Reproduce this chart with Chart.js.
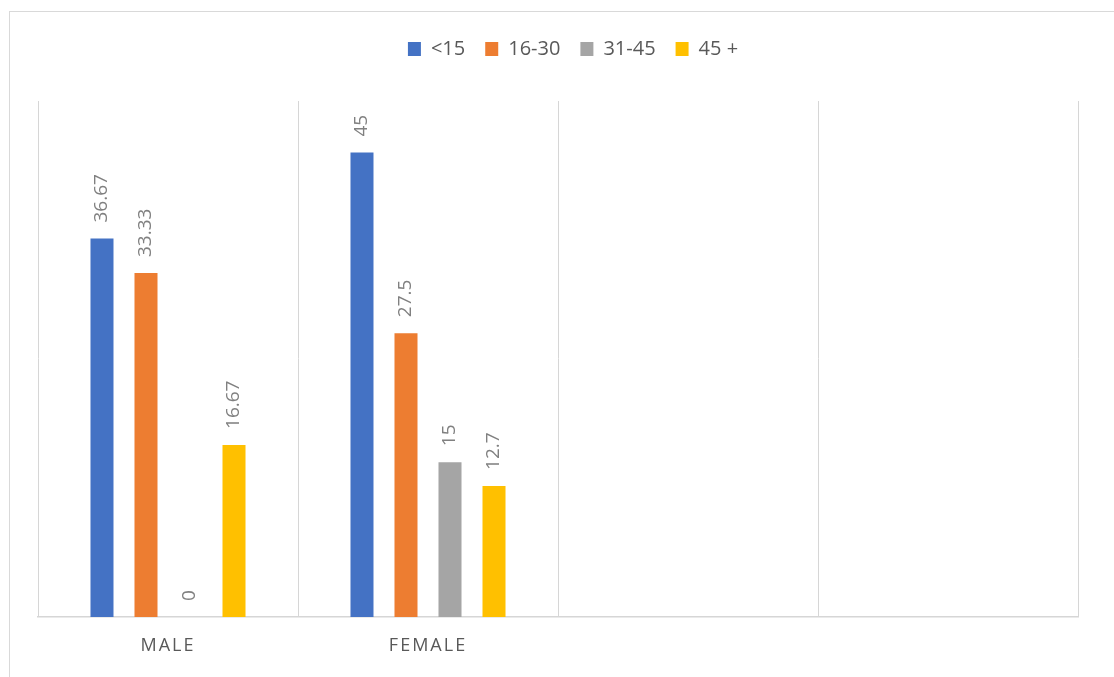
<!DOCTYPE html>
<html>
<head>
<meta charset="utf-8">
<script src="https://cdn.jsdelivr.net/npm/chart.js@4/dist/chart.umd.min.js"></script>
<style>
    html, body { margin: 0; padding: 0; background: #fff; overflow: hidden; }
    #frame {
        position: absolute; left: 9px; top: 11px;
        width: 1200px; height: 800px;
        border: 1px solid #d9d9d9;
    }
    #wrap { position: absolute; left: 0; top: 0; width: 1114px; height: 677px; }
</style>
</head>
<body>
<div id="frame"></div>
<div id="wrap"><canvas id="ageChart"></canvas></div>
<script>
// categories and age-group shares (%)
const genders = ['MALE', 'FEMALE', '', ''];
const under15 = [36.67, 45, null, null];
const age16to30 = [33.33, 27.5, null, null];
const age31to45 = [0, 15, null, null];
const age45plus = [16.67, 12.7, null, null];
const groupNames = ['<15', '16-30', '31-45', '45 +'];

Chart.defaults.font.family = '"Open Sans", sans-serif';
Chart.defaults.animation = false;

// value labels standing vertically above each bar
const barValueLabels = {
    id: 'barValueLabels',
    afterDatasetsDraw(chart) {
        const ctx = chart.ctx;
        ctx.save();
        ctx.font = '19px "Open Sans", sans-serif';
        ctx.fillStyle = '#808080';
        ctx.textAlign = 'left';
        ctx.textBaseline = 'middle';
        chart.data.datasets.forEach(function(ds, i) {
            chart.getDatasetMeta(i).data.forEach(function(bar, j) {
                const v = ds.data[j];
                if (v === null || v === undefined) return;
                ctx.save();
                ctx.translate(bar.x, bar.y - 16);
                ctx.rotate(-Math.PI / 2);
                ctx.fillText(String(v), 0, 0);
                ctx.restore();
            });
        });
        ctx.restore();
    }
};

// spaced-out capitals on the category axis
const spacedTicks = {
    id: 'spacedTicks',
    beforeDraw(chart) {
        const scale = chart.scales.x;
        if (scale._spaced) return;
        const orig = scale.drawLabels.bind(scale);
        scale.drawLabels = function(area) {
            this.ctx.save();
            this.ctx.letterSpacing = '2px';
            orig(area);
            this.ctx.restore();
        };
        scale._spaced = true;
    }
};

var ctx = document.getElementById('ageChart').getContext('2d');
new Chart(ctx, {
    type: 'bar',
    data: {
        labels: genders,
        datasets: [
            { label: groupNames[0], data: under15, backgroundColor: '#4472C4', xAxisID: 'x' },
            { label: groupNames[1], data: age16to30, backgroundColor: '#ED7D31', xAxisID: 'x' },
            { label: groupNames[2], data: age31to45, backgroundColor: '#A5A5A5', xAxisID: 'x' },
            { label: groupNames[3], data: age45plus, backgroundColor: '#FFC000', xAxisID: 'x' }
        ]
    },
    options: {
        responsive: true,
        maintainAspectRatio: false,
        categoryPercentage: 0.677,
        barPercentage: 0.523,
        layout: { padding: { top: 19, left: 38, right: 6, bottom: 0 } },
        scales: {
            x: {
                position: 'bottom',
                grid: { display: true, offset: true, color: '#d6d6d6', drawTicks: false },
                border: { display: true, color: '#d6d6d6', width: 1.5 },
                ticks: { color: '#595959', font: { size: 18 }, padding: 18 },
                afterFit: function(s) { s.height = 60; }
            },
            xTop: {
                type: 'category',
                labels: [''],
                position: 'top',
                grid: { display: false },
                border: { display: false },
                ticks: { display: false },
                afterFit: function(s) { s.height = 32; }
            },
            y: {
                position: 'right',
                min: 0,
                max: 50,
                grid: { display: false },
                border: { display: false },
                ticks: { display: false },
                afterFit: function(s) { s.width = 30; }
            }
        },
        plugins: {
            legend: {
                position: 'top',
                labels: {
                    boxWidth: 13,
                    boxHeight: 14,
                    padding: 20,
                    color: '#595959',
                    font: { size: 20 }
                }
            },
            tooltip: { enabled: false }
        }
    },
    plugins: [barValueLabels, spacedTicks]
});
</script>
</body>
</html>
